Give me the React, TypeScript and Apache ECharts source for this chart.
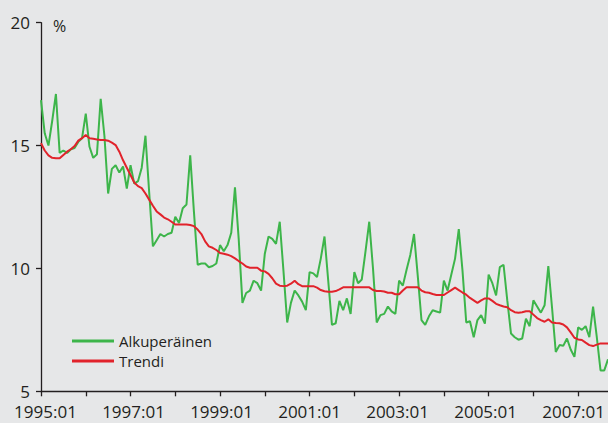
import React, { useEffect, useRef } from "react";
import * as echarts from "echarts";

// Monthly categories 1995:01 .. 2007:09
const months: string[] = [];
for (let y = 1995; y <= 2007; y++) {
  for (let m = 1; m <= 12; m++) {
    if (y === 2007 && m > 9) break;
    months.push(`${y}:${m < 10 ? "0" + m : m}`);
  }
}

const original: number[] = [
  16.85, 15.5, 15.0, 16.0, 17.1, 14.7, 14.8, 14.7, 14.85, 14.9, 15.15, 15.3,
  16.3, 14.95, 14.5, 14.65, 16.9, 15.4, 13.05, 14.05, 14.2, 13.9, 14.15, 13.25,
  14.2, 13.45, 13.55, 14.1, 15.4, 13.1, 10.9, 11.15, 11.4, 11.3, 11.4, 11.45,
  12.1, 11.85, 12.45, 12.6, 14.6, 12.3, 10.15, 10.2, 10.2, 10.05, 10.1, 10.2,
  10.95, 10.7, 10.95, 11.45, 13.3, 11.2, 8.6, 9.0, 9.1, 9.5, 9.4, 9.1,
  10.6, 11.3, 11.2, 11.0, 11.9, 9.9, 7.8, 8.6, 9.1, 8.9, 8.65, 8.3,
  9.85, 9.8, 9.65, 10.4, 11.3, 9.5, 7.7, 7.77, 8.68, 8.3, 8.78, 8.15,
  9.85, 9.4, 9.55, 10.7, 11.9, 10.0, 7.8, 8.1, 8.15, 8.45, 8.25, 8.15,
  9.5, 9.3, 9.95, 10.55, 11.4, 9.7, 7.9, 7.7, 8.05, 8.3, 8.25, 8.2,
  9.5, 9.1, 9.75, 10.4, 11.6, 9.9, 7.8, 7.85, 7.2, 7.9, 8.1, 7.75,
  9.75, 9.4, 8.9, 10.05, 10.15, 8.7, 7.35, 7.2, 7.1, 7.15, 7.95, 7.65,
  8.7, 8.45, 8.2, 8.5, 10.1, 8.4, 6.6, 6.88, 6.85, 7.15, 6.7, 6.4,
  7.6, 7.5, 7.65, 7.2, 8.45, 7.2, 5.85, 5.85, 6.3,
];

const trend: number[] = [
  15.1, 14.8, 14.6, 14.5, 14.48, 14.48, 14.62, 14.75, 14.85, 14.98, 15.2, 15.3,
  15.43, 15.3, 15.28, 15.25, 15.23, 15.23, 15.2, 15.12, 15.02, 14.75, 14.4, 14.1,
  13.8, 13.5, 13.35, 13.27, 13.05, 12.8, 12.55, 12.32, 12.2, 12.07, 12.0, 11.9,
  11.79, 11.79, 11.79, 11.79, 11.77, 11.72, 11.58, 11.4, 11.1, 10.9, 10.84, 10.75,
  10.63, 10.6, 10.56, 10.5, 10.41, 10.3, 10.2, 10.08, 10.03, 10.03, 10.03, 9.91,
  9.88, 9.78, 9.6, 9.38, 9.3, 9.28, 9.3, 9.38, 9.5, 9.36, 9.28, 9.28,
  9.28, 9.28, 9.22, 9.12, 9.07, 9.05, 9.05, 9.08, 9.15, 9.23, 9.23, 9.23,
  9.23, 9.23, 9.23, 9.23, 9.23, 9.12, 9.08, 9.08, 9.06, 9.01, 9.01, 8.95,
  8.95, 9.1, 9.23, 9.23, 9.23, 9.23, 9.1, 9.03, 9.01, 8.96, 8.92, 8.92,
  8.92, 9.02, 9.12, 9.22, 9.12, 9.02, 8.93, 8.8, 8.7, 8.6, 8.7, 8.78,
  8.78, 8.68, 8.56, 8.5, 8.45, 8.42, 8.3, 8.22, 8.2, 8.22, 8.26, 8.26,
  8.12, 7.98, 7.9, 7.83, 7.93, 7.8, 7.78, 7.77, 7.72, 7.6, 7.4, 7.18,
  7.11, 7.09, 6.98, 6.88, 6.84, 6.9, 6.95, 6.95, 6.95,
];

const seriesNames = ["Alkuperäinen", "Trendi"];
const FONT = "'Open Sans', 'DejaVu Sans', sans-serif";
const TEXT = "#231f20";
const AXIS = "#231f20";

export default function App() {
  const ref = useRef<HTMLDivElement>(null);
  useEffect(() => {
    if (!ref.current) return;
    const chart = echarts.init(ref.current, undefined, { renderer: "svg" });
    const labelStyle = {
      interval: 23,
      margin: 12,
      fontSize: 17,
      lineHeight: 17,
      color: TEXT,
      fontFamily: FONT,
      hideOverlap: false,
    };
    chart.setOption({
      animation: false,
      backgroundColor: "#e6e7e8",
      grid: [
        { left: 41, right: 0, top: 22.7, bottom: 31.7, containLabel: false },
        // label-only grid, shifted right like the reference's tick labels
        { left: 45.5, right: -4.5, top: 22.7, bottom: 31.7, containLabel: false },
      ],
      legend: {
        data: seriesNames.map((n) => ({ name: n, icon: "rect" })),
        orient: "vertical",
        left: 67,
        top: 328,
        itemWidth: 42,
        itemHeight: 3,
        itemGap: 4,
        textStyle: { fontSize: 15, lineHeight: 16, color: TEXT, fontFamily: FONT },
      },
      graphic: [
        {
          type: "text",
          x: 53,
          y: 26,
          style: { text: "%", fontSize: 16, fill: TEXT, fontFamily: FONT, verticalAlign: "middle" },
        },
      ],
      xAxis: [
        {
          type: "category",
          gridIndex: 0,
          data: months,
          boundaryGap: false,
          axisLine: { lineStyle: { color: AXIS, width: 1.3 } },
          axisTick: { interval: 11, length: 5, lineStyle: { color: AXIS, width: 1.3 } },
          axisLabel: { show: false },
          splitLine: { show: false },
        },
        {
          type: "category",
          gridIndex: 1,
          data: months,
          boundaryGap: false,
          axisLine: { show: false },
          axisTick: { show: false },
          axisLabel: labelStyle,
          splitLine: { show: false },
        },
      ],
      yAxis: [
        {
          type: "value",
          gridIndex: 0,
          min: 5,
          max: 20,
          interval: 5,
          axisLine: { show: true, lineStyle: { color: AXIS, width: 1.3 } },
          axisTick: { show: true, length: 5, lineStyle: { color: AXIS, width: 1.3 } },
          axisLabel: { margin: 11, fontSize: 17, color: TEXT, fontFamily: FONT },
          splitLine: { show: false },
        },
        {
          type: "value",
          gridIndex: 1,
          min: 5,
          max: 20,
          interval: 5,
          show: false,
        },
      ],
      series: [
        {
          name: seriesNames[0],
          type: "line",
          data: original,
          symbol: "none",
          color: "#3db54a",
          lineStyle: { width: 2, color: "#3db54a" },
        },
        {
          name: seriesNames[1],
          type: "line",
          data: trend,
          symbol: "none",
          color: "#e1232b",
          lineStyle: { width: 2, color: "#e1232b" },
        },
      ],
    });
    return () => chart.dispose();
  }, []);
  return (
    <div
      ref={ref}
      style={{ position: "fixed", left: 0, top: 0, width: 608, height: 423 }}
    />
  );
}
